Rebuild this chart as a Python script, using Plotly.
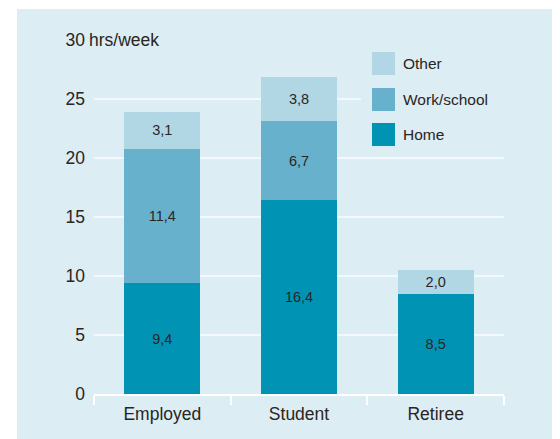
import plotly.graph_objects as go

categories = ["Employed", "Student", "Retiree"]
series_names = ["Home", "Work/school", "Other"]
home = [9.4, 16.4, 8.5]
work_school = [11.4, 6.7, 0.0]
other = [3.1, 3.8, 2.0]
y_tickvals = [0, 5, 10, 15, 20, 25, 30]
y_ticktext = ["0", "5", "10", "15", "20", "25", "30"]
y_unit = "hrs/week"

colors = {"Home": "#0093b4", "Work/school": "#67b1cc", "Other": "#b1d7e5"}
PANEL = "#dcedf4"
TEXT = "#2a2522"
FONT = "Liberation Sans, Arial, Helvetica, sans-serif"

OFF = 8  # page body margin
W, H = 560 - OFF, 439 - OFF
L, R, T, B = 94 - OFF, 56, 40 - OFF, 45
PW, PH = W - L - R, H - T - B


def px(x):
    return (x - OFF - L) / PW


def py(y):
    return (H - B - (y - OFF)) / PH


def fmt(v):
    return "" if v == 0 else f"{v:.1f}".replace(".", ",")


fig = go.Figure()
for name, vals in zip(series_names, [home, work_school, other]):
    fig.add_trace(go.Bar(
        x=categories, y=vals, name=name,
        marker=dict(color=colors[name], line=dict(width=0)),
        text=[fmt(v) for v in vals], textposition="inside",
        insidetextanchor="middle", textangle=0,
        textfont=dict(size=14.5, color=TEXT, family=FONT),
        hoverinfo="skip", showlegend=False,
    ))

shapes = [
    # panel background
    dict(type="rect", xref="paper", yref="paper", x0=px(17), x1=px(554), y0=py(450), y1=py(9),
         fillcolor=PANEL, line=dict(width=0), layer="below"),
    # legend cover (hides gridline behind legend)
    dict(type="rect", xref="paper", yref="paper", x0=px(361), x1=px(506), y0=py(145), y1=py(50),
         fillcolor=PANEL, line=dict(width=0), layer="above"),
]
annotations = []
# manual legend
leg_top = [52, 88, 123]
for name, top in zip(["Other", "Work/school", "Home"], leg_top):
    shapes.append(dict(type="rect", xref="paper", yref="paper", x0=px(372), x1=px(395),
                       y0=py(top + 23), y1=py(top), fillcolor=colors[name], line=dict(width=0),
                       layer="above"))
    annotations.append(dict(xref="paper", yref="paper", x=px(401), y=py(top + 11.5), text=name,
                            showarrow=False, xanchor="left", yanchor="middle",
                            font=dict(size=15.5, color=TEXT, family=FONT)))
# unit label next to top tick
annotations.append(dict(xref="paper", yref="y", x=px(87), y=30, text=y_unit, showarrow=False,
                        xanchor="left", yanchor="middle", bgcolor=PANEL, borderpad=1,
                        font=dict(size=17.5, color=TEXT, family=FONT)))

fig.update_layout(
    width=W, height=H,
    margin=dict(l=L, r=R, t=T, b=B, pad=0),
    paper_bgcolor="white", plot_bgcolor=PANEL,
    barmode="stack", bargap=0.444,
    font=dict(family=FONT, color=TEXT, size=17.5),
    shapes=shapes, annotations=annotations,
    xaxis=dict(type="category", range=[-0.5, 2.5], tickson="boundaries", ticks="outside",
               ticklen=9, tickwidth=1.5, tickcolor="white", showline=True, linecolor="white",
               linewidth=1.5, showgrid=False, zeroline=False, ticklabelstandoff=3,
               tickfont=dict(size=17.5, color=TEXT, family=FONT)),
    yaxis=dict(range=[0, 30], tickvals=y_tickvals, ticktext=y_ticktext, showgrid=True,
               gridcolor="#f2f8fb", gridwidth=1.5, zeroline=False, ticks="",
               ticklabelstandoff=8, tickfont=dict(size=17.5, color=TEXT, family=FONT)),
)

fig.write_html("out.html")
